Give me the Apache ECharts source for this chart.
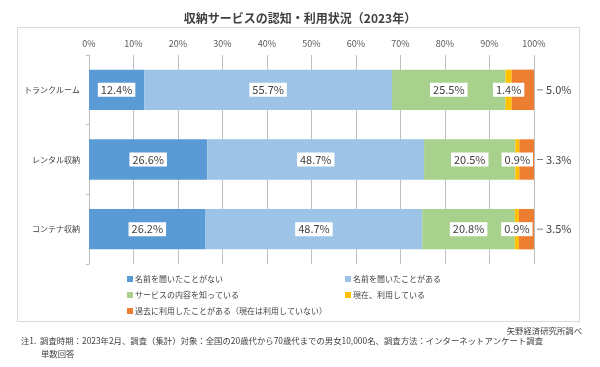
<!DOCTYPE html>
<html><head><meta charset="utf-8">
<script src="https://cdn.jsdelivr.net/npm/echarts@6/dist/echarts.min.js"></script>
<style>html,body{margin:0;padding:0;background:#fff}#c{width:600px;height:367px}</style>
</head><body><div id="c"></div>
<script>
const categories = ['トランクルーム', 'レンタル収納', 'コンテナ収納'];
const seriesNames = ['名前を聞いたことがない', '名前を聞いたことがある', 'サービスの内容を知っている', '現在、利用している', '過去に利用したことがある（現在は利用していない）'];
const neverHeard = [12.4, 26.6, 26.2];
const heard = [55.7, 48.7, 48.7];
const knowService = [25.5, 20.5, 20.8];
const usingNow = [1.4, 0.9, 0.9];
const usedBefore = [5.0, 3.3, 3.5];
const tickLabels = ['0%', '10%', '20%', '30%', '40%', '50%', '60%', '70%', '80%', '90%', '100%'];
const colors = ['#5B9BD5', '#9DC3E6', '#A9D18E', '#FFC000', '#ED7D31'];
const titleText = '収納サービスの認知・利用状況（2023年）';
const sourceText = '矢野経済研究所調べ';
const note1 = '注1.  調査時期：2023年2月、調査（集計）対象：全国の20歳代から70歳代までの男女10,000名、調査方法：インターネットアンケート調査';
const note2 = '単数回答';

const FONT = '"Noto Sans CJK JP", "Noto Sans", sans-serif';
const values = [neverHeard, heard, knowService, usingNow, usedBefore];

const boxLabel = {
  show: true, position: 'inside', backgroundColor: '#fff', padding: [2, 3, 1, 3],
  color: '#404040', fontSize: 11, fontFamily: FONT,
  formatter: p => p.value.toFixed(1) + '%'
};

const series = values.map((arr, i) => {
  const s = {
    name: seriesNames[i], type: 'bar', stack: 'total', data: arr,
    barWidth: '58%', itemStyle: { color: colors[i] },
    label: boxLabel, emphasis: { disabled: true }
  };
  if (i === 4) {
    s.label = {
      show: true, position: 'right', distance: 3,
      formatter: p => '{l|}{v|' + p.value.toFixed(1) + '%}',
      rich: {
        l: { width: 6, height: 1, backgroundColor: '#7f7f7f' },
        v: { color: '#404040', fontSize: 11, fontFamily: FONT, padding: [0, 0, 0, 3] }
      }
    };
  }
  return s;
});

const chart = echarts.init(document.getElementById('c'), null, { renderer: 'canvas' });
chart.setOption({
  animation: false,
  color: colors,
  title: {
    text: titleText, left: 'center', top: 7,
    textStyle: { fontSize: 12, fontWeight: 'bold', color: '#404040', fontFamily: FONT }
  },
  grid: { left: 89, right: 66, top: 55, bottom: 103 },
  xAxis: {
    type: 'value', position: 'top', min: 0, max: 100, interval: 10,
    axisLabel: { formatter: v => tickLabels[v / 10], fontSize: 9, color: '#595959', fontFamily: FONT, margin: 7 },
    splitLine: { lineStyle: { color: '#BFBFBF', width: 1 } },
    axisLine: { show: false }, axisTick: { show: false }
  },
  yAxis: {
    type: 'category', data: categories, inverse: true,
    axisLine: { show: true, lineStyle: { color: '#BFBFBF' } },
    axisTick: { show: true, length: 3, lineStyle: { color: '#BFBFBF' } },
    axisLabel: { fontSize: 8, color: '#404040', fontFamily: FONT, margin: 9 }
  },
  legend: [
    { data: [seriesNames[0], seriesNames[2], seriesNames[4]], orient: 'vertical', left: 122, top: 269,
      itemWidth: 6, itemHeight: 6, itemGap: 6, icon: 'rect', selectedMode: false,
      textStyle: { fontSize: 8, lineHeight: 10, color: '#404040', fontFamily: FONT, padding: [0, 0, 0, -3] } },
    { data: [seriesNames[1], seriesNames[3]], orient: 'vertical', left: 340, top: 269,
      itemWidth: 6, itemHeight: 6, itemGap: 6, icon: 'rect', selectedMode: false,
      textStyle: { fontSize: 8, lineHeight: 10, color: '#404040', fontFamily: FONT, padding: [0, 0, 0, -3] } }
  ],
  graphic: [
    { type: 'rect', shape: { x: 17.5, y: 27.5, width: 562, height: 294 }, style: { fill: 'none', stroke: '#D9D9D9', lineWidth: 1 }, silent: true, z: -1 },
    { type: 'text', right: 18, top: 327, style: { text: sourceText, fontSize: 8.4, fill: '#404040', fontFamily: FONT } },
    { type: 'text', left: 21, top: 337, style: { text: note1, fontSize: 8.4, fill: '#404040', fontFamily: FONT } },
    { type: 'text', left: 41, top: 350, style: { text: note2, fontSize: 8.4, fill: '#404040', fontFamily: FONT } }
  ],
  series: series
});
</script></body></html>
